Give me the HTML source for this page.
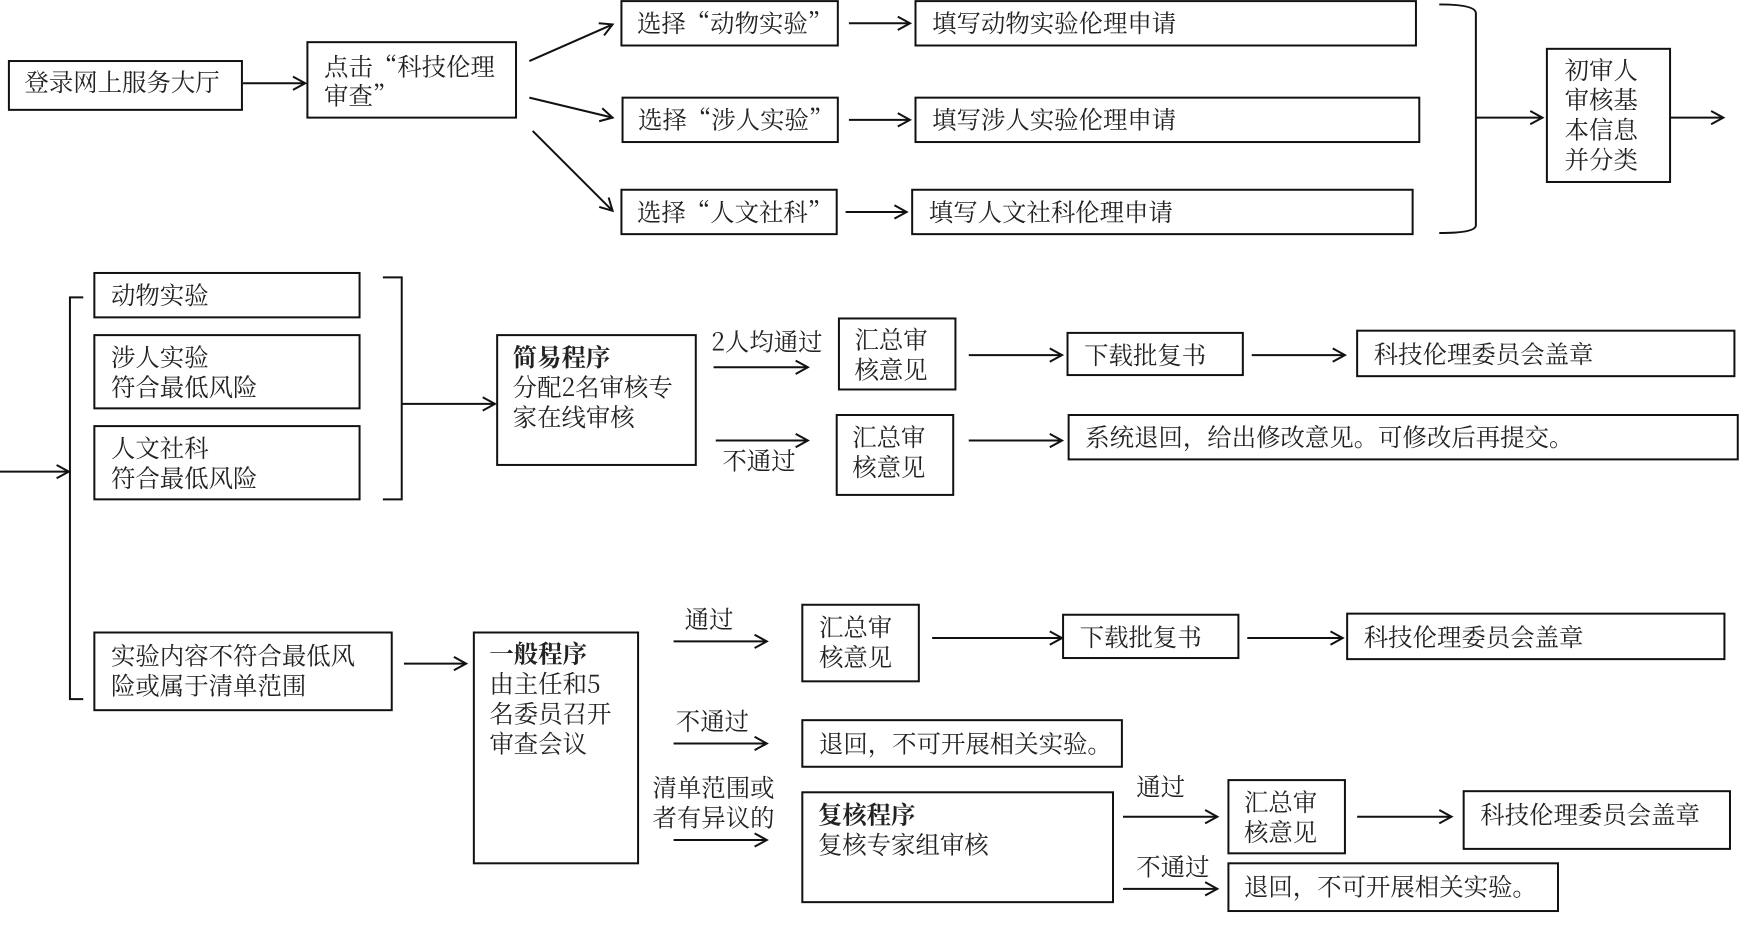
<!DOCTYPE html>
<html><head><meta charset="utf-8"><style>
html,body{margin:0;padding:0;background:#fff;}
svg{display:block;}
text{font-family:"Noto Serif CJK SC","Liberation Serif",serif;font-size:22px;fill:#222;}
.b{font-weight:bold;}
rect{fill:#fff;stroke:#111;stroke-width:1.8;}
line,path{stroke:#111;stroke-width:1.8;fill:none;}
</style></head><body>
<svg width="1740" height="931" viewBox="0 0 1568 839" xmlns="http://www.w3.org/2000/svg">
<defs><marker id="a" markerWidth="14" markerHeight="14" refX="12" refY="7" orient="auto" markerUnits="userSpaceOnUse"><path d="M1,1 L12,7 L1,13" style="stroke:#111;stroke-width:1.8;fill:none"/></marker></defs>

<rect x="8" y="55" width="210" height="44"/><text x="22" y="82">登录网上服务大厅</text>
<line x1="219" y1="75" x2="275" y2="75" marker-end="url(#a)"/>
<rect x="277" y="38" width="188" height="68"/><text x="292" y="68">点击“科技伦理</text><text x="292" y="94">审查”</text>
<line x1="477" y1="55" x2="552" y2="22" marker-end="url(#a)"/>
<line x1="477" y1="88" x2="552" y2="106" marker-end="url(#a)"/>
<line x1="480" y1="118" x2="552" y2="190" marker-end="url(#a)"/>

<rect x="560" y="1" width="195" height="40"/><text x="574" y="29">选择“动物实验”</text>
<line x1="765" y1="21" x2="820" y2="21" marker-end="url(#a)"/>
<rect x="825" y="1" width="451" height="40"/><text x="840" y="29">填写动物实验伦理申请</text>
<rect x="561" y="88" width="194" height="40"/><text x="575" y="116">选择“涉人实验”</text>
<line x1="765" y1="108" x2="820" y2="108" marker-end="url(#a)"/>
<rect x="825" y="88" width="454" height="40"/><text x="840" y="116">填写涉人实验伦理申请</text>
<rect x="560" y="171" width="194" height="40"/><text x="574" y="199">选择“人文社科”</text>
<line x1="762" y1="191" x2="817" y2="191" marker-end="url(#a)"/>
<rect x="822" y="171" width="451" height="40"/><text x="837" y="199">填写人文社科伦理申请</text>

<path d="M1297,4 Q1330,4 1330,12 L1330,203 Q1330,210 1297,210"/>
<line x1="1330" y1="106" x2="1390" y2="106" marker-end="url(#a)"/>
<rect x="1394" y="44" width="111" height="120"/>
<text x="1410" y="71">初审人</text><text x="1410" y="98">审核基</text><text x="1410" y="125">本信息</text><text x="1410" y="152">并分类</text>
<line x1="1505" y1="106" x2="1553" y2="106" marker-end="url(#a)"/>

<line x1="0" y1="425" x2="62" y2="425" marker-end="url(#a)"/>
<path d="M75,268 L63,268 L63,630 L75,630"/>
<rect x="85" y="246" width="239" height="40"/><text x="100" y="274">动物实验</text>
<rect x="85" y="302" width="239" height="66"/><text x="100" y="330">涉人实验</text><text x="100" y="357">符合最低风险</text>
<rect x="85" y="384" width="239" height="66"/><text x="100" y="412">人文社科</text><text x="100" y="439">符合最低风险</text>
<path d="M345,250 L362,250 L362,450 L345,450"/>
<line x1="362" y1="364" x2="446" y2="364" marker-end="url(#a)"/>
<rect x="448" y="302" width="179" height="117"/>
<text x="462" y="330" class="b">简易程序</text><text x="462" y="357">分配2名审核专</text><text x="462" y="384">家在线审核</text>
<text x="641" y="316">2人均通过</text>
<line x1="643" y1="331" x2="728" y2="331" marker-end="url(#a)"/>
<line x1="645" y1="397" x2="728" y2="397" marker-end="url(#a)"/>
<text x="651" y="423">不通过</text>
<rect x="756" y="287" width="105" height="64"/><text x="770" y="314">汇总审</text><text x="770" y="341">核意见</text>
<rect x="754" y="374" width="105" height="72"/><text x="768" y="402">汇总审</text><text x="768" y="429">核意见</text>
<line x1="873" y1="320" x2="957" y2="320" marker-end="url(#a)"/>
<rect x="962" y="300" width="158" height="38"/><text x="977" y="328">下载批复书</text>
<line x1="1128" y1="320" x2="1212" y2="320" marker-end="url(#a)"/>
<rect x="1223" y="298" width="340" height="41"/><text x="1238" y="327">科技伦理委员会盖章</text>
<line x1="873" y1="397" x2="957" y2="397" marker-end="url(#a)"/>
<rect x="963" y="374" width="603" height="40"/><text x="978" y="402">系统退回，给出修改意见。可修改后再提交。</text>

<rect x="85" y="570" width="268" height="70"/><text x="100" y="599">实验内容不符合最低风</text><text x="100" y="626">险或属于清单范围</text>
<line x1="364" y1="598" x2="420" y2="598" marker-end="url(#a)"/>
<rect x="427" y="570" width="148" height="208"/>
<text x="441" y="597" class="b">一般程序</text><text x="441" y="624">由主任和5</text><text x="441" y="651">名委员召开</text><text x="441" y="678">审查会议</text>
<text x="617" y="566">通过</text>
<line x1="607" y1="578" x2="691" y2="578" marker-end="url(#a)"/>
<rect x="723" y="545" width="105" height="69"/><text x="738" y="573">汇总审</text><text x="738" y="600">核意见</text>
<line x1="840" y1="575" x2="957" y2="575" marker-end="url(#a)"/>
<rect x="958" y="554" width="158" height="39"/><text x="973" y="582">下载批复书</text>
<line x1="1124" y1="575" x2="1210" y2="575" marker-end="url(#a)"/>
<rect x="1214" y="553" width="340" height="41"/><text x="1229" y="582">科技伦理委员会盖章</text>
<text x="609" y="658">不通过</text>
<line x1="607" y1="670" x2="691" y2="670" marker-end="url(#a)"/>
<rect x="723" y="649" width="288" height="42"/><text x="738" y="678">退回，不可开展相关实验。</text>
<text x="588" y="718">清单范围或</text><text x="588" y="745">者有异议的</text>
<line x1="607" y1="757" x2="691" y2="757" marker-end="url(#a)"/>
<rect x="723" y="714" width="280" height="99"/>
<text x="737" y="742" class="b">复核程序</text><text x="737" y="769">复核专家组审核</text>
<text x="1024" y="717">通过</text>
<line x1="1012" y1="736" x2="1097" y2="736" marker-end="url(#a)"/>
<rect x="1107" y="703" width="105" height="66"/><text x="1121" y="731">汇总审</text><text x="1121" y="758">核意见</text>
<line x1="1223" y1="736" x2="1308" y2="736" marker-end="url(#a)"/>
<rect x="1319" y="713" width="240" height="52"/><text x="1334" y="742">科技伦理委员会盖章</text>
<text x="1024" y="789">不通过</text>
<line x1="1012" y1="801" x2="1097" y2="801" marker-end="url(#a)"/>
<rect x="1107" y="778" width="297" height="43"/><text x="1121" y="807">退回，不可开展相关实验。</text>
</svg>
</body></html>
